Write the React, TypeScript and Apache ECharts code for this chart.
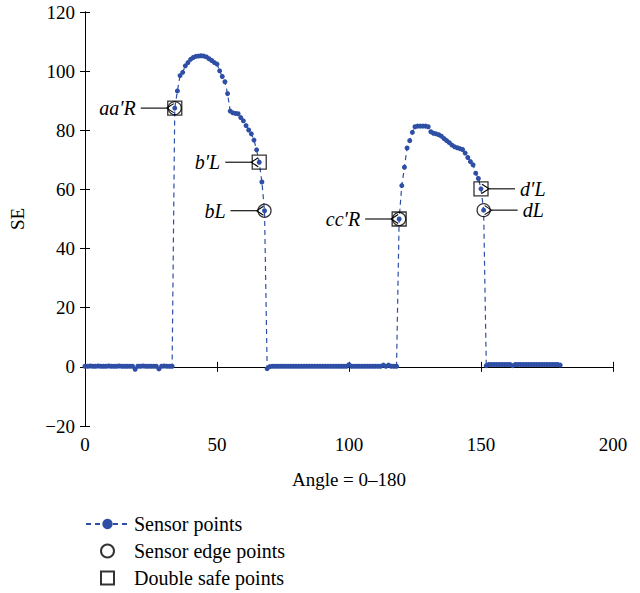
import React, { useEffect, useRef } from "react";
import * as echarts from "echarts";

// ---- Data ----
const angleCount = 181; // angles 0..180 (one sensor reading per degree)
const angles: number[] = Array.from({ length: angleCount }, (_, i) => i);

const seValues: number[] = [
  // 0 - 33
  0.2, 0.2, 0.3, 0.2, 0.2, 0.3, 0.2, 0.2, 0.2, 0.3,
  0.2, 0.2, 0.2, 0.3, 0.2, 0.2, 0.2, 0.2, 0.2, -0.8,
  0.2, 0.2, 0.3, 0.2, 0.2, 0.2, 0.2, 0.2, -0.7, 0.2,
  0.3, 0.2, 0.2, 0.2,
  // 34 - 69
  87.5, 93.3, 98.5, 99.6, 101.8, 102.9, 104.0, 104.6, 105.0, 105.1,
  105.2, 105.1, 104.8, 104.2, 103.6, 102.9, 102.4, 100.1, 98.2, 96.4,
  92.4, 86.5, 85.9, 85.7, 85.6, 84.3, 83.2, 81.6, 80.1, 78.8,
  76.7, 73.4, 69.2, 62.5, 52.8, -0.6,
  // 70 - 118
  0.1, 0.2, 0.2, 0.2, 0.2, 0.2, 0.2, 0.2, 0.2, 0.2,
  0.2, 0.2, 0.2, 0.2, 0.2, 0.2, 0.2, 0.2, 0.2, 0.2,
  0.2, 0.2, 0.2, 0.2, 0.2, 0.2, 0.2, 0.2, 0.2, 0.2,
  0.7, 0.2, 0.2, 0.2, 0.2, 0.2, 0.2, 0.2, 0.2, 0.2,
  0.2, 0.2, 0.2, 0.6, 0.2, 0.6, 0.2, 0.2, 0.2,
  // 119 - 151
  50.0, 61.3, 67.5, 74.0, 76.5, 79.3, 81.2, 81.4, 81.4, 81.4,
  81.4, 81.2, 79.5, 79.0, 78.8, 78.5, 78.0, 77.2, 76.5, 75.8,
  75.0, 74.4, 74.1, 73.8, 73.5, 72.3, 70.8, 69.4, 68.3, 65.5,
  63.7, 60.2, 53.0,
  // 152 - 180
  0.4, 0.8, 0.8, 0.8, 0.8, 0.8, 0.8, 0.8, 0.8, 0.8,
  0.4, 0.8, 0.8, 0.8, 0.8, 0.8, 0.8, 0.8, 0.8, 0.8,
  0.8, 0.8, 0.8, 0.8, 0.8, 0.8, 0.8, 0.8, 0.6,
];

const edgeAngles: number[] = [34, 68, 119, 151];
const safeAngles: number[] = [34, 66, 119, 150];

const annotationLabels: string[] = ["aa′R", "b′L", "bL", "cc′R", "d′L", "dL"];
const annotationAngles: number[] = [34, 66, 68, 119, 150, 151];
const annotationSides: string[] = ["left", "left", "left", "left", "right", "right"];

const seriesNames: string[] = ["Sensor points", "Sensor edge points", "Double safe points"];

const xTicks = { min: 0, max: 200, interval: 50 };
const yTicks = { min: -20, max: 120, interval: 20 };

const BLUE = "#2f4fa6";
const FONT = "'Liberation Serif', 'DejaVu Serif', serif";

export default function App() {
  const ref = useRef<HTMLDivElement>(null);

  useEffect(() => {
    document.body.style.margin = "0";
    if (!ref.current) return;
    const chart = echarts.init(ref.current, undefined, { renderer: "svg" });

    const axisCommon = {
      axisLine: { show: true, lineStyle: { color: "#000", width: 1 } },
      axisTick: { show: true, inside: true, length: 5, lineStyle: { color: "#000" } },
      splitLine: { show: false },
    };

    const option: any = {
      animation: false,
      backgroundColor: "#fff",
      grid: { left: 84, right: 27, top: 12, bottom: 167 },
      xAxis: [
        {
          type: "value",
          ...xTicks,
          position: "bottom",
          ...axisCommon,
          axisLabel: { color: "#000", fontFamily: FONT, fontSize: 19, margin: 9 },
          name: "Angle = 0–180",
          nameLocation: "middle",
          nameGap: 44,
          nameTextStyle: { color: "#000", fontFamily: FONT, fontSize: 19 },
        },
        {
          type: "value",
          ...xTicks,
          position: "top",
          ...axisCommon,
          axisLabel: { show: false },
        },
      ],
      yAxis: [
        {
          type: "value",
          ...yTicks,
          position: "left",
          ...axisCommon,
          axisLabel: {
            color: "#000",
            fontFamily: FONT,
            fontSize: 19,
            margin: 10,
            formatter: (v: number) => (v < 0 ? "−" + Math.abs(v) : String(v)),
          },
          name: "SE",
          nameLocation: "middle",
          nameGap: 58,
          nameTextStyle: { color: "#000", fontFamily: FONT, fontSize: 19 },
        },
        {
          type: "value",
          ...yTicks,
          position: "right",
          ...axisCommon,
          axisLabel: { show: false },
        },
      ],
      legend: {
        orient: "vertical",
        left: 80,
        top: 509,
        height: 84,
        itemWidth: 43,
        itemHeight: 13,
        itemGap: 7,
        textStyle: { color: "#000", fontFamily: FONT, fontSize: 20 },
        data: [
          { name: seriesNames[0] },
          { name: seriesNames[1] },
          { name: seriesNames[2], icon: "path://M0 0H10V10H0Z" },
        ],
      },
      series: [
        {
          name: seriesNames[0],
          type: "line",
          xAxisIndex: 0,
          yAxisIndex: 0,
          data: angles.map((a, i) => [a, seValues[i]]),
          symbol: "circle",
          symbolSize: 5,
          showAllSymbol: true,
          lineStyle: { color: BLUE, width: 1.2, type: [5, 4] },
          itemStyle: { color: BLUE },
          z: 3,
        },
        {
          name: seriesNames[1],
          type: "scatter",
          data: edgeAngles.map((a) => [a, seValues[a]]),
          symbol: "circle",
          symbolSize: 13,
          itemStyle: { color: "rgba(0,0,0,0)", borderColor: "#000", borderWidth: 1.3 },
          z: 4,
        },
        {
          name: seriesNames[2],
          type: "scatter",
          data: safeAngles.map((a) => [a, seValues[a]]),
          symbol: "rect",
          symbolSize: 14,
          itemStyle: { color: "rgba(0,0,0,0)", borderColor: "#000", borderWidth: 1.3 },
          z: 4,
        },
      ],
    };
    chart.setOption(option);

    const graphics: any[] = [];
    annotationLabels.forEach((label, i) => {
      const a = annotationAngles[i];
      const [px, py] = chart.convertToPixel({ gridIndex: 0 }, [a, seValues[a]]) as number[];
      const left = annotationSides[i] === "left";
      const dir = left ? -1 : 1;
      const tip = px + dir * 8;
      const tail = px + dir * 34;
      graphics.push({
        type: "line",
        shape: { x1: tail, y1: py, x2: tip, y2: py },
        style: { stroke: "#000", lineWidth: 1.1 },
        z: 10,
      });
      graphics.push({
        type: "polyline",
        shape: {
          points: [
            [tip - dir * 7, py - 4.5],
            [tip, py],
            [tip - dir * 7, py + 4.5],
          ],
        },
        style: { stroke: "#000", lineWidth: 1.1, fill: "none" },
        z: 10,
      });
      graphics.push({
        type: "text",
        x: tail + dir * 5,
        y: py,
        style: {
          text: label,
          fill: "#000",
          font: `italic 20px ${FONT}`,
          align: left ? "right" : "left",
          verticalAlign: "middle",
        },
        z: 10,
      });
    });
    chart.setOption({ graphic: graphics });

    return () => chart.dispose();
  }, []);

  return <div ref={ref} style={{ width: 640, height: 593 }} />;
}
